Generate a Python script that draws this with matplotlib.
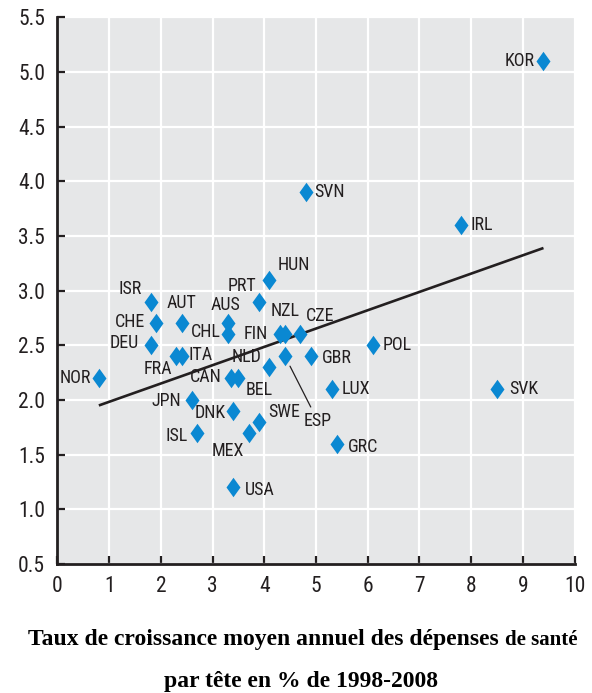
"""Scatter: health spending growth per capita vs. country labels (OECD style)."""

import matplotlib
matplotlib.use("Agg")
import matplotlib.pyplot as plt

# data
countries = ["KOR", "SVN", "IRL", "HUN", "PRT", "ISR", "AUT", "CHE", "AUS", "CHL",
             "DEU", "NZL", "FIN", "CZE", "FRA", "ITA", "NLD", "CAN", "BEL", "GBR",
             "ESP", "POL", "LUX", "SVK", "GRC", "NOR", "JPN", "DNK", "SWE", "ISL",
             "MEX", "USA"]
growth_x = [9.4, 4.8, 7.8, 4.1, 3.9, 1.8, 2.4, 1.9, 3.3, 3.3,
            1.8, 4.4, 4.3, 4.7, 2.3, 2.4, 4.1, 3.35, 3.5, 4.9,
            4.4, 6.1, 5.3, 8.5, 5.4, 0.8, 2.6, 3.4, 3.9, 2.7,
            3.7, 3.4]
value_y = [5.1, 3.9, 3.6, 3.1, 2.9, 2.9, 2.7, 2.7, 2.7, 2.6,
           2.5, 2.6, 2.6, 2.6, 2.4, 2.4, 2.3, 2.2, 2.2, 2.4,
           2.4, 2.5, 2.1, 2.1, 1.6, 2.2, 2.0, 1.9, 1.8, 1.7,
           1.7, 1.2]
trend_x = [0.8, 9.4]
trend_y = [1.95, 3.39]

x_ticks = list(range(0, 11))
y_ticks = [0.5, 1.0, 1.5, 2.0, 2.5, 3.0, 3.5, 4.0, 4.5, 5.0, 5.5]

# label placement: (dx, dy) in pixels, horizontal alignment
label_pos = {
    "KOR": (-9, 0, "right"), "SVN": (9, 0, "left"), "IRL": (10, 0, "left"),
    "HUN": (8, 15, "left"), "PRT": (-3, 16, "right"), "ISR": (-9, 13, "right"),
    "AUT": (0, 20, "center"), "CHE": (-11, 1, "right"), "AUS": (-3, 18, "center"),
    "CHL": (-7, 2, "right"), "DEU": (-12, 2, "right"), "NZL": (0, 23, "center"),
    "FIN": (-12, 0, "right"), "CZE": (5, 18, "left"), "FRA": (-4, -13, "right"),
    "ITA": (7, 1, "left"), "NLD": (-8, 10, "right"), "CAN": (-9, 1, "right"),
    "BEL": (7, -12, "left"), "GBR": (11, -2, "left"), "POL": (10, 0, "left"),
    "LUX": (10, 0, "left"), "SVK": (12, 0, "left"), "GRC": (11, -3, "left"),
    "NOR": (-8, 0, "right"), "JPN": (-11, -1, "right"), "DNK": (-8, -2, "right"),
    "SWE": (9, 10, "left"), "ISL": (-9, -3, "right"), "MEX": (-5, -18, "right"),
    "USA": (12, -3, "left"),
}

DARK = "#231f20"
BLUE = "#0a88d2"
BG = "#e6e7e8"
NARROW = ["Roboto Condensed", "Archivo Narrow", "PT Sans Narrow",
          "Liberation Sans Narrow", "DejaVu Sans"]

plt.rcParams["font.family"] = NARROW

fig = plt.figure(figsize=(5.92, 6.93), dpi=100)
ax = fig.add_axes([57.5 / 592, 1 - 564 / 693, 517 / 592, (564 - 17.3) / 693])
ax.set_facecolor(BG)
ax.set_xlim(0, 10)
ax.set_ylim(0.5, 5.5)

ax.set_xticks(x_ticks)
ax.set_yticks(y_ticks)
ax.set_yticklabels([f"{v:.1f}" for v in y_ticks])
ax.grid(True, color="white", linewidth=1.6, zorder=0)
ax.set_axisbelow(True)

for side in ("top", "right"):
    ax.spines[side].set_visible(False)
for side in ("left", "bottom"):
    ax.spines[side].set_color(DARK)
    ax.spines[side].set_linewidth(2.0)
ax.tick_params(axis="both", direction="in", length=6, width=1.6, color=DARK,
               labelcolor=DARK, labelsize=15.5)
ax.tick_params(axis="x", pad=9)
ax.tick_params(axis="y", pad=9)

ax.plot(trend_x, trend_y, color=DARK, linewidth=1.9, zorder=2,
        solid_capstyle="butt")

diamond = [(0, 1), (0.72, 0), (0, -1), (-0.72, 0), (0, 1)]
ax.scatter(growth_x, value_y, marker=diamond, s=14 ** 2, color=BLUE,
           linewidths=0, zorder=3)

for name, x, y in zip(countries, growth_x, value_y):
    if name == "ESP":
        continue
    dx, dy, ha = label_pos[name]
    ax.annotate(name, (x, y), xytext=(dx, dy), textcoords="offset pixels",
                ha=ha, va="center", fontsize=13, color=DARK, zorder=4)

# ESP is labelled below with a leader line
i = countries.index("ESP")
ax.annotate("ESP", (growth_x[i], value_y[i]), xytext=(33, -65),
            textcoords="offset pixels", ha="center", va="center",
            fontsize=13, color=DARK, zorder=4,
            arrowprops=dict(arrowstyle="-", color=DARK, linewidth=0.9,
                            shrinkA=2, shrinkB=8))

# x-axis title in bold serif, second part of the first line smaller
serif = ["Liberation Serif", "DejaVu Serif"]
renderer = fig.canvas.get_renderer()
t1 = fig.text(0, 0, "Taux de croissance moyen annuel des dépenses ",
              fontsize=17, fontweight="bold", family=serif, color="black",
              va="baseline")
t2 = fig.text(0, 0, "de santé", fontsize=15, fontweight="bold",
              family=serif, color="black", va="baseline")
w1 = t1.get_window_extent(renderer).width
w2 = t2.get_window_extent(renderer).width
start = 303 - (w1 + w2) / 2
base_y = 1 - 645 / 693
t1.set_position((start / 592, base_y))
t2.set_position(((start + w1) / 592, base_y))
fig.text(301 / 592, 1 - 681 / 693, "par tête en % de 1998-2008", ha="center",
         va="center", fontsize=17, fontweight="bold", family=serif,
         color="black")

fig.savefig("out.png", dpi=100)
